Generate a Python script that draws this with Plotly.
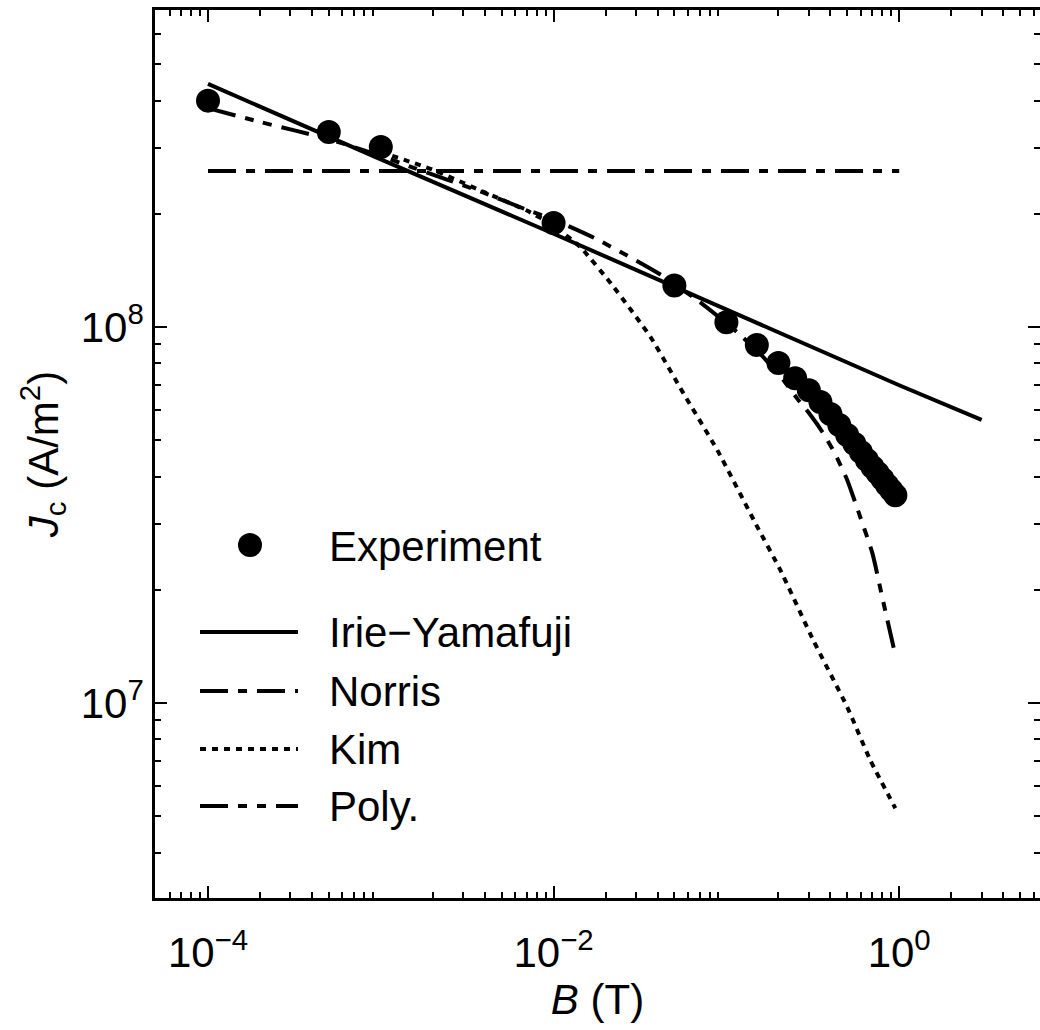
import plotly.graph_objects as go

# ---------------- data ----------------
B_exp = [1e-4, 5e-4, 1e-3, 1e-2, 0.05, 0.1, 0.15, 0.2, 0.25, 0.3, 0.35, 0.4,
         0.45, 0.5, 0.55, 0.6, 0.65, 0.7, 0.75, 0.8, 0.85, 0.9, 0.95]
Jc_exp = [4.0e8, 3.30e8, 3.01e8, 1.89e8, 1.29e8, 1.03e8, 8.96e7, 8.02e7, 7.31e7,
          6.79e7, 6.32e7, 5.87e7, 5.49e7, 5.16e7, 4.89e7, 4.65e7, 4.43e7, 4.24e7,
          4.09e7, 3.94e7, 3.80e7, 3.68e7, 3.57e7]

B_irie = [1e-4, 1e-3, 1e-2, 0.1, 1.0, 3.0]
Jc_irie = [4.43e8, 2.79e8, 1.77e8, 1.11e8, 7.0e7, 5.66e7]

B_norris = [1e-4, 1.0]
Jc_norris = [2.6e8, 2.6e8]

B_kim = [1e-3, 2e-3, 4e-3, 7e-3, 1e-2, 0.0143, 0.0222, 0.0364, 0.0563, 0.0885,
         0.151, 0.205, 0.318, 0.5, 0.68, 0.95]
Jc_kim = [2.92e8, 2.62e8, 2.28e8, 2.04e8, 1.86e8, 1.63e8, 1.28e8, 9.4e7, 6.67e7,
          4.71e7, 2.94e7, 2.26e7, 1.47e7, 9.76e6, 7.05e6, 5.25e6]

B_poly = [1e-4, 2e-4, 5e-4, 1e-3, 1.55e-3, 3.8e-3, 7e-3, 1e-2, 0.017, 0.042,
          0.074, 0.115, 0.16, 0.21, 0.257, 0.305, 0.36, 0.42, 0.5, 0.594,
          0.7, 0.8, 0.94]
Jc_poly = [3.82e8, 3.51e8, 3.16e8, 2.85e8, 2.65e8, 2.29e8, 2.05e8, 1.93e8, 1.73e8,
           1.375e8, 1.144e8, 9.7e7, 8.4e7, 7.3e7, 6.45e7, 5.85e7, 5.25e7, 4.65e7,
           3.92e7, 3.13e7, 2.5e7, 1.9e7, 1.37e7]

legend_names = ["Experiment", "Irie\u2212Yamafuji", "Norris", "Kim", "Poly."]

x_label_vals = [1e-4, 1e-2, 1.0]
x_label_text = ["10<sup>\u22124</sup>", "10<sup>\u22122</sup>", "10<sup>0</sup>"]
x_unlabeled_major = [1e-4, 1e-3, 1e-2, 1e-1, 1.0]
y_major = [1e7, 1e8]
y_major_text = ["10<sup>7</sup>", "10<sup>8</sup>"]

# ---------------- styles ----------------
FONT = "Liberation Sans, Arial, Helvetica, sans-serif"
FS = 42
LW = 4
DASH_NORRIS = "28px,10px,9px,10px"
DASH_POLY = "28px,10px,9px,10px,9px,10px"
DASH_KIM = "6px,6px"

W, H = 1040, 1030
ML, MR, MT, MB = 155, 0, 10, 132
PW, PH = W - ML - MR, H - MT - MB

x_minor = [m * 10.0 ** e for e in range(-5, 1) for m in range(2, 10)]
y_minor = [m * 10.0 ** e for e in range(6, 9) for m in range(2, 10)]

fig = go.Figure()
fig.add_trace(go.Scatter(x=B_irie, y=Jc_irie, mode="lines", name=legend_names[1],
                         line=dict(color="black", width=LW)))
fig.add_trace(go.Scatter(x=B_norris, y=Jc_norris, mode="lines", name=legend_names[2],
                         line=dict(color="black", width=LW, dash=DASH_NORRIS)))
fig.add_trace(go.Scatter(x=B_kim, y=Jc_kim, mode="lines", name=legend_names[3],
                         line=dict(color="black", width=LW, dash=DASH_KIM,
                                   shape="spline", smoothing=0.5)))
fig.add_trace(go.Scatter(x=B_poly, y=Jc_poly, mode="lines", name=legend_names[4],
                         line=dict(color="black", width=LW, dash=DASH_POLY,
                                   shape="spline", smoothing=0.6)))
fig.add_trace(go.Scatter(x=B_exp, y=Jc_exp, mode="markers", name=legend_names[0],
                         marker=dict(color="black", size=24, symbol="circle",
                                     line=dict(width=0))))

# ---------------- manual legend (layout positions in pixels) ----------------
def px(xp):
    return (xp - ML) / PW

def py(yp):
    return (MT + PH - yp) / PH

shapes = []
annotations = []
shapes.append(dict(type="circle", xref="paper", yref="paper",
                   x0=px(238), x1=px(262), y0=py(557), y1=py(533),
                   fillcolor="black", line=dict(width=0)))
annotations.append(dict(text=legend_names[0], xref="paper", yref="paper",
                        x=px(327), y=py(546), xanchor="left", yanchor="middle",
                        showarrow=False, font=dict(size=FS, color="black", family=FONT)))
leg_rows = [(632, "solid"), (691, DASH_NORRIS), (749, DASH_KIM), (806, DASH_POLY)]
for name, (yrow, dash) in zip(legend_names[1:], leg_rows):
    shapes.append(dict(type="line", xref="paper", yref="paper",
                       x0=px(200), x1=px(298), y0=py(yrow), y1=py(yrow),
                       line=dict(color="black", width=LW, dash=dash)))
    annotations.append(dict(text=name, xref="paper", yref="paper",
                            x=px(327), y=py(yrow), xanchor="left", yanchor="middle",
                            showarrow=False, font=dict(size=FS, color="black", family=FONT)))

x_range = [-4.3067, -4.3067 + PW / 172.8]
y_top = 8 + 317 / 376
y_range = [y_top - PH / 376, y_top]

minor_style = dict(ticks="inside", ticklen=6, tickwidth=1.8, tickcolor="black", showgrid=False)

fig.update_layout(
    width=W, height=H,
    margin=dict(l=ML, r=MR, t=MT, b=MB, pad=0),
    paper_bgcolor="white", plot_bgcolor="white",
    showlegend=False,
    font=dict(family=FONT, size=FS, color="black"),
    shapes=shapes, annotations=annotations,
    xaxis=dict(
        type="log", range=x_range, automargin=False,
        showgrid=False, zeroline=False,
        showline=True, linecolor="black", linewidth=2.5, mirror="allticks",
        ticks="inside", ticklen=12, tickwidth=2.2, tickcolor="black",
        tickmode="array", tickvals=x_label_vals, ticktext=x_label_text,
        ticklabelstandoff=16,
        tickfont=dict(size=FS, family=FONT, color="black"),
        minor=dict(tickmode="array", tickvals=x_minor, **minor_style),
        title=dict(text="<i>B</i> (T)", font=dict(size=FS, family=FONT, color="black"),
                   standoff=10),
    ),
    xaxis2=dict(
        type="log", range=x_range, overlaying="x", anchor="y", side="bottom",
        showgrid=False, zeroline=False, showline=False, mirror="allticks",
        ticks="inside", ticklen=12, tickwidth=2.2, tickcolor="black",
        tickmode="array", tickvals=x_unlabeled_major, showticklabels=False,
    ),
    yaxis=dict(
        type="log", range=y_range, automargin=False,
        showgrid=False, zeroline=False,
        showline=True, linecolor="black", linewidth=2.5, mirror="allticks",
        ticks="inside", ticklen=12, tickwidth=2.2, tickcolor="black",
        tickmode="array", tickvals=y_major, ticktext=y_major_text,
        tickfont=dict(size=FS, family=FONT, color="black"),
        minor=dict(tickmode="array", tickvals=y_minor, **minor_style),
        title=dict(text="<i>J</i><sub>c</sub> (A/m<sup>2</sup>)",
                   font=dict(size=FS, family=FONT, color="black"), standoff=10),
    ),
)

fig.write_html("out.html")
